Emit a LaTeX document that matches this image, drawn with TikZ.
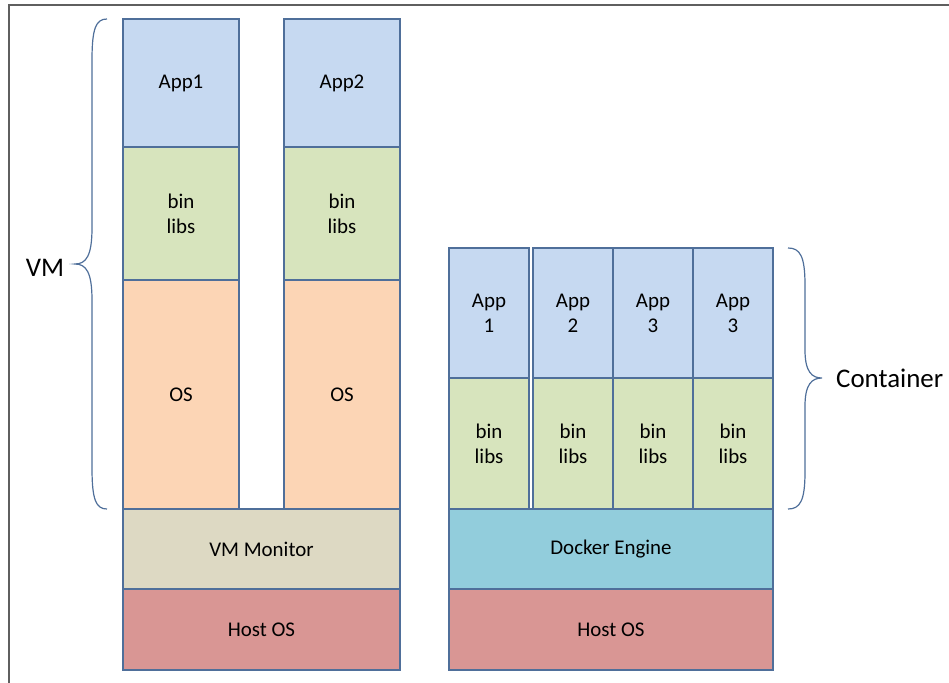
\documentclass[tikz,border=0pt]{standalone}
\usepackage{fontspec}
\setmainfont{Carlito}
\definecolor{bordc}{HTML}{4F6F9A}
\definecolor{appblue}{HTML}{C6D9F1}
\definecolor{bingreen}{HTML}{D7E4BD}
\definecolor{ospeach}{HTML}{FCD5B5}
\definecolor{vmmc}{HTML}{DDD9C3}
\definecolor{hostred}{HTML}{D99694}
\definecolor{dockc}{HTML}{92CDDC}
\definecolor{framec}{HTML}{5F5F5F}
\begin{document}
\begin{tikzpicture}[x=1bp,y=-1bp,
  layer/.style={draw=bordc, line width=1.3bp, inner sep=0pt, align=center,
    font=\fontsize{21}{25}\selectfont},
  vmcol/.style={layer, minimum width=116bp},
  ctcol/.style={layer, minimum width=80bp},
  bigtxt/.style={font=\fontsize{27}{30}\selectfont, inner sep=0pt},
  bracec/.style={draw=bordc, line width=1.2bp}]
\useasboundingbox (0,0) rectangle (949,683);
\draw[framec, line width=2.5bp] (9,683) -- (9,5) -- (949,5);
% VM stack
\node[vmcol, fill=appblue, minimum height=128bp] (app1) at (181,83) {App1};
\node[vmcol, fill=appblue, minimum height=128bp] (app2) at (342,83) {App2};
\node[vmcol, fill=bingreen, minimum height=133bp] (bl1) at (181,213.5) {bin\\libs};
\node[vmcol, fill=bingreen, minimum height=133bp] (bl2) at (342,213.5) {bin\\libs};
\node[vmcol, fill=ospeach, minimum height=229bp] (os1) at (181,394.5) {OS};
\node[vmcol, fill=ospeach, minimum height=229bp] (os2) at (342,394.5) {OS};
\node[layer, fill=vmmc, minimum width=277bp, minimum height=80bp] (vmm) at (261.5,549) {VM Monitor};
\node[layer, fill=hostred, minimum width=277bp, minimum height=81bp] (host1) at (261.5,629.5) {Host OS};
% Container stack
\node[ctcol, fill=appblue, minimum height=130bp] (ca1) at (489,313) {App\\1};
\node[ctcol, fill=appblue, minimum height=130bp] (ca2) at (573,313) {App\\2};
\node[ctcol, fill=appblue, minimum height=130bp] (ca3) at (653,313) {App\\3};
\node[ctcol, fill=appblue, minimum height=130bp] (ca4) at (733,313) {App\\3};
\node[ctcol, fill=bingreen, minimum height=131bp] (cb1) at (489,443.5) {bin\\libs};
\node[ctcol, fill=bingreen, minimum height=131bp] (cb2) at (573,443.5) {bin\\libs};
\node[ctcol, fill=bingreen, minimum height=131bp] (cb3) at (653,443.5) {bin\\libs};
\node[ctcol, fill=bingreen, minimum height=131bp] (cb4) at (733,443.5) {bin\\libs};
\node[layer, fill=dockc, minimum width=324bp, minimum height=80bp] (dock) at (611,549) {Docker Engine};
\node[layer, fill=hostred, minimum width=324bp, minimum height=81bp] (host2) at (611,629.5) {Host OS};
% Braces
\draw[bracec] (107,19) .. controls (96,19) and (92,28) .. (92,60) -- (92,228)
  .. controls (92,256) and (86,264) .. (75,264)
  .. controls (86,264) and (92,272) .. (92,300) -- (92,468)
  .. controls (92,500) and (96,509) .. (107,509);
\draw[bracec] (788,248) .. controls (800,248) and (805,256) .. (805,285) -- (805,350)
  .. controls (805,372) and (812,378) .. (822,378)
  .. controls (812,378) and (805,384) .. (805,406) -- (805,472)
  .. controls (805,501) and (800,509) .. (788,509);
\node[bigtxt] (vmlab) at (45,268) {VM};
\node[bigtxt, anchor=west] (ctlab) at (836,378) {Container};
\end{tikzpicture}
\end{document}
